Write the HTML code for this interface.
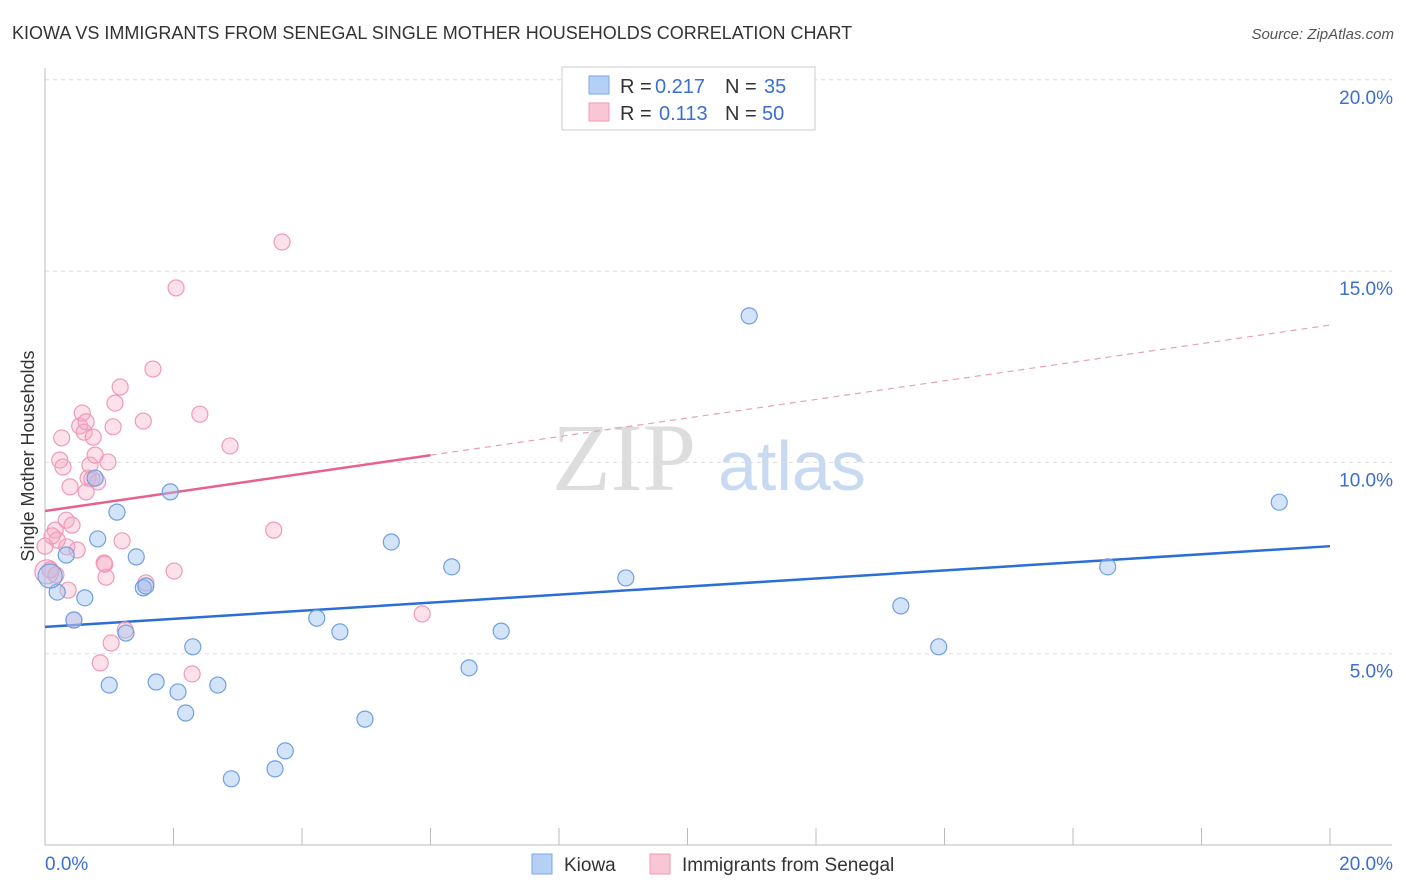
<!DOCTYPE html>
<html><head><meta charset="utf-8"><style>
body{margin:0;background:#fff;font-family:"Liberation Sans",sans-serif;}
svg{display:block}
</style></head><body>
<svg id="chart" width="1406" height="892">
<text x="12" y="39" font-size="18" fill="#333">KIOWA VS IMMIGRANTS FROM SENEGAL SINGLE MOTHER HOUSEHOLDS CORRELATION CHART</text>
<text x="1394" y="39" font-size="15" fill="#555" font-style="italic" text-anchor="end">Source: ZipAtlas.com</text>
<g>
<text x="552" y="490" font-size="96" fill="#ddd" font-family="Liberation Serif,serif">ZIP</text>
<text x="718" y="490" font-size="70" fill="#c8daf2">atlas</text>
</g>
<g id="grid"></g>
<g id="axes"></g>
<g id="lines"></g>
<g id="points"></g>
<text transform="translate(34,456) rotate(-90)" font-size="18" fill="#333" text-anchor="middle">Single Mother Households</text>
<g>
<rect x="562" y="67" width="253" height="63" fill="#fff" stroke="#ccc"/>
<rect x="589" y="76" width="20" height="18" fill="#b5d0f5" stroke="#7aa7e8"/>
<text x="620" y="93" font-size="20" fill="#333">R =</text>
<text x="655" y="93" font-size="20" fill="#3a6fd0">0.217</text>
<text x="725" y="93" font-size="20" fill="#333">N =</text>
<text x="764" y="93" font-size="20" fill="#3a6fd0">35</text>
<rect x="589" y="103" width="20" height="18" fill="#f9c6d6" stroke="#f09ab5"/>
<text x="620" y="120" font-size="20" fill="#333">R =</text>
<text x="659" y="120" font-size="20" fill="#3a6fd0">0.113</text>
<text x="725" y="120" font-size="20" fill="#333">N =</text>
<text x="762" y="120" font-size="20" fill="#3a6fd0">50</text>
</g>
<g>
<rect x="532" y="854" width="20" height="20" fill="#b5d0f5" stroke="#7aa7e8"/>
<text x="564" y="871" font-size="19" fill="#333">Kiowa</text>
<rect x="650" y="854" width="20" height="20" fill="#f9c6d6" stroke="#f09ab5"/>
<text x="682" y="871" font-size="19" fill="#333">Immigrants from Senegal</text>
</g>
</svg>
<script>
const yTicks=[5,10,15,20];
const yTickLabels=["5.0%","10.0%","15.0%","20.0%"];
const xTickLabels=["0.0%","20.0%"];
const kiowaX=[0.19,0.33,0.45,0.62,0.78,0.82,1.00,1.12,1.26,1.42,1.53,1.57,1.73,1.95,2.07,2.19,2.30,2.69,2.90,3.58,3.74,4.23,4.59,4.98,5.39,6.33,6.60,7.10,9.04,10.96,13.32,13.91,16.54,19.21,0.08];
const kiowaY=[6.61,7.58,5.88,6.46,9.59,8.00,4.18,8.70,5.54,7.53,6.72,6.77,4.26,9.23,4.00,3.45,5.18,4.18,1.73,1.99,2.46,5.93,5.57,3.29,7.92,7.27,4.63,5.59,6.98,13.83,6.25,5.18,7.27,8.96,7.03];
const senX=[0.03,0.08,0.16,0.19,0.26,0.28,0.23,0.33,0.39,0.42,0.45,0.50,0.54,0.58,0.61,0.64,0.64,0.67,0.70,0.75,0.78,0.82,0.86,0.92,0.95,0.98,1.03,1.06,1.09,1.17,1.20,1.25,1.53,1.57,1.68,2.01,2.04,2.29,2.41,2.88,3.56,3.69,5.87,0.0,0.11,0.17,0.34,0.93,0.73,0.36];
const senY=[7.14,7.19,8.23,7.97,10.64,9.88,10.06,8.49,9.36,8.36,5.88,7.71,10.95,11.29,10.79,11.06,9.23,9.59,9.93,10.66,10.19,9.49,4.76,7.37,7.00,10.01,5.28,10.93,11.55,11.97,7.95,5.62,11.08,6.85,12.44,7.16,14.56,4.47,11.26,10.43,8.23,15.76,6.04,7.81,8.08,7.06,7.79,7.34,9.57,6.66];
const kiowaTrend=[5.70,7.81];
const senTrend=[8.73,13.59];
const senSolidEnd=6.0;

const NS="http://www.w3.org/2000/svg";
const X0=45,X1=1330,Y0=845,PPY=38.26;
const sx=v=>X0+(X1-X0)*v/20;
const sy=v=>Y0-v*PPY;
function mk(tag,attrs,parent){const e=document.createElementNS(NS,tag);for(const k in attrs)e.setAttribute(k,attrs[k]);document.getElementById(parent).appendChild(e);return e;}

yTicks.forEach((t,i)=>{
 const g=mk('line',{x1:X0,x2:1392,y1:sy(t),y2:sy(t),stroke:'#ddd','stroke-dasharray':'4,4'},'grid');
 
 
 const l=mk('text',{x:1393,y:sy(t)+24,'font-size':19,fill:'#3a6fd0','text-anchor':'end'},'axes');
 l.textContent=yTickLabels[i];
 
 
});
const ya=mk('line',{x1:X0,x2:X0,y1:68,y2:Y0,stroke:'#bbb'},'axes');


const xa=mk('line',{x1:X0,x2:1392,y1:Y0,y2:Y0,stroke:'#bbb'},'axes');


for(let i=0;i<=10;i++){
 const t=mk('line',{x1:sx(i*2),x2:sx(i*2),y1:828,y2:Y0,stroke:'#bbb'},'axes');
 
 
}
[[0,'start',45],[20,'end',1393]].forEach((d,i)=>{
 const l=mk('text',{x:d[2],y:870,'font-size':19,fill:'#3a6fd0','text-anchor':d[1]},'axes');
 l.textContent=xTickLabels[i];
 
 
});

const bl=mk('line',{x1:sx(0),y1:sy(kiowaTrend[0]),x2:sx(20),y2:sy(kiowaTrend[1]),stroke:'#2a6fd6','stroke-width':2.5},'lines');


const slope=(senTrend[1]-senTrend[0])/20;
const ps=mk('line',{x1:sx(0),y1:sy(senTrend[0]),x2:sx(senSolidEnd),y2:sy(senTrend[0]+slope*senSolidEnd),stroke:'#e8608e','stroke-width':2.5},'lines');


const pd=mk('line',{x1:sx(senSolidEnd),y1:sy(senTrend[0]+slope*senSolidEnd),x2:sx(20),y2:sy(senTrend[1]),stroke:'#e8a0b8','stroke-width':1.2,'stroke-dasharray':'6,5'},'lines');



senX.forEach((x,i)=>{
 const c=mk('circle',{cx:sx(x),cy:sy(senY[i]),r:i===0?12:8,fill:'rgba(245,170,195,0.35)',stroke:'#f09ab5','stroke-width':1.2},'points');
 
 
});
kiowaX.forEach((x,i)=>{
 const c=mk('circle',{cx:sx(x),cy:sy(kiowaY[i]),r:i===kiowaX.length-1?12:8,fill:'rgba(160,195,240,0.45)',stroke:'#6f9fe3','stroke-width':1.2},'points');
 
 
});
</script>
</body></html>
